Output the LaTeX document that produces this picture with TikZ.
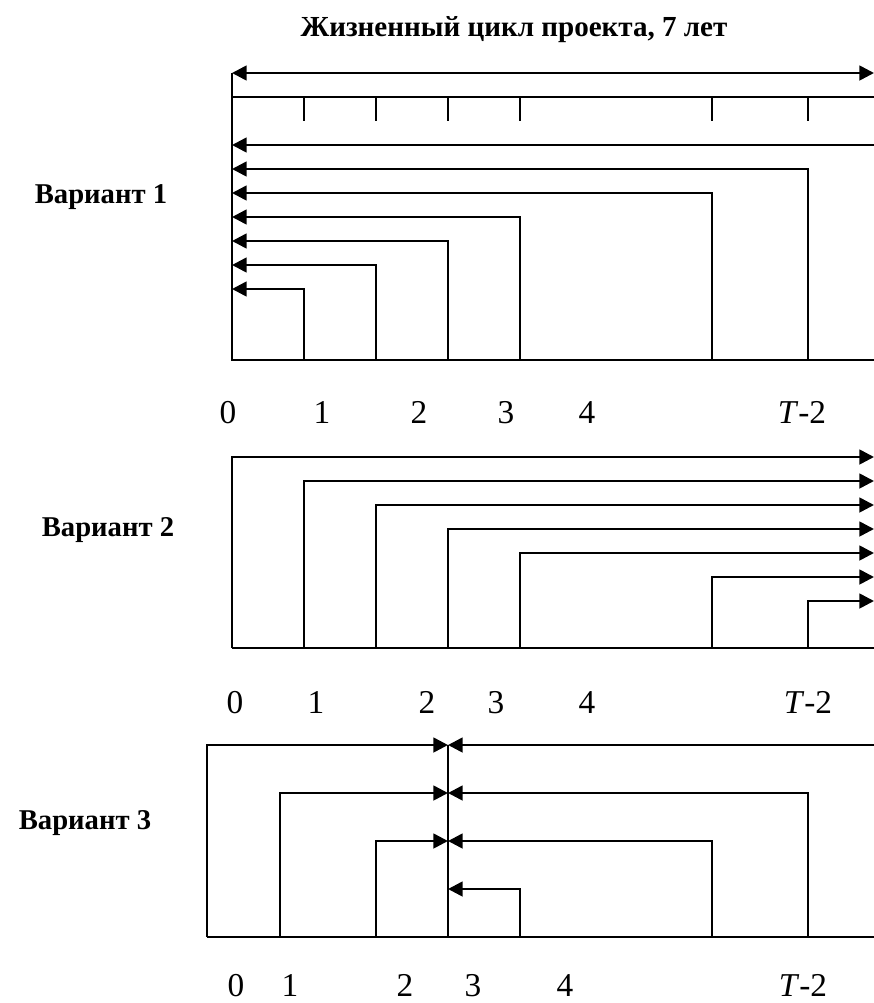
\documentclass[tikz,border=0pt]{standalone}
\usepackage{fontspec}
\setmainfont{Liberation Serif}
\usetikzlibrary{arrows.meta}
\begin{document}
\begin{tikzpicture}[x=0.75pt,y=-0.75pt,
  ln/.style={line width=1.3pt},
  hl/.style={line width=2pt},
  tipl/.style={hl,-{Triangle[length=11pt,width=11pt]}},
  both/.style={hl,{Triangle[length=11pt,width=11pt]}-{Triangle[length=11pt,width=11pt]}},
  lab/.style={font=\fontsize{25}{28}\selectfont,inner sep=0pt,anchor=base},
  vlab/.style={font=\fontsize{21.5}{24}\selectfont\bfseries,inner sep=0pt},
  ttl/.style={font=\fontsize{21.8}{24}\selectfont\bfseries,inner sep=0pt}]
\useasboundingbox (0,0) rectangle (874,1003);
% title
\node[ttl] (title) at (514,30) {Жизненный цикл проекта, 7 лет};
% ---------------- Variant 1
\node[vlab] (v1) at (101,197) {Вариант 1};
\coordinate (a0) at (232,73);
\coordinate (a1) at (874,73);
\draw[both] (a0) -- (a1);
\coordinate (b0) at (232,97);
\coordinate (b1) at (874,97);
\draw[ln] (b0) -- (b1);
\foreach \x in {304,376,448,520,712,808}
  \draw[ln] (\x,97) -- (\x,121);
\coordinate (o1) at (232,360);
\coordinate (e1) at (874,360);
\draw[ln] (a0) -- (o1) -- (e1);
\draw[tipl] (874,145) -- (232,145);
\foreach \x/\y in {808/169,712/193,520/217,448/241,376/265,304/289}
  \draw[tipl] (\x,360) -- (\x,\y) -- (232,\y);
\foreach \t/\x in {0/228,1/322,2/419,3/506,4/587}
  \node[lab] at (\x,423) {\t};
\node[lab] at (802,423) {\textit{T}-2};
% ---------------- Variant 2
\node[vlab] (v2) at (108,530) {Вариант 2};
\coordinate (o2) at (232,648);
\coordinate (e2) at (874,648);
\draw[ln] (o2) -- (e2);
\foreach \x/\y in {232/457,304/481,376/505,448/529,520/553,712/577,808/601}
  \draw[tipl] (\x,648) -- (\x,\y) -- (874,\y);
\foreach \t/\x in {0/235,1/316,2/427,3/496,4/587}
  \node[lab] at (\x,713) {\t};
\node[lab] at (808,713) {\textit{T}-2};
% ---------------- Variant 3
\node[vlab] (v3) at (85,823) {Вариант 3};
\coordinate (o3) at (207,937);
\coordinate (e3) at (874,937);
\coordinate (m0) at (448,745);
\coordinate (m1) at (448,937);
\draw[ln] (o3) -- (e3);
\draw[ln] (m0) -- (m1);
\foreach \x/\y in {207/745,280/793,376/841}
  \draw[tipl] (\x,937) -- (\x,\y) -- (448,\y);
\draw[tipl] (874,745) -- (448,745);
\foreach \x/\y in {808/793,712/841,520/889}
  \draw[tipl] (\x,937) -- (\x,\y) -- (448,\y);
\foreach \t/\x in {0/236,1/290,2/405,3/473,4/565}
  \node[lab] at (\x,996) {\t};
\node[lab] at (803,996) {\textit{T}-2};
\end{tikzpicture}
\end{document}
